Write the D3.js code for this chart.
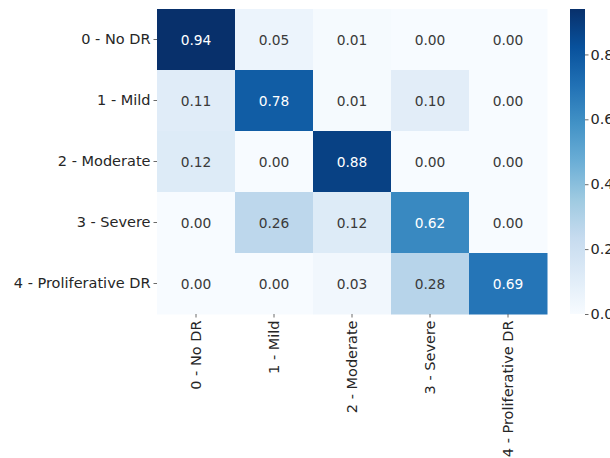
<!DOCTYPE html>
<html>
<head>
<meta charset="utf-8">
<script src="https://cdn.jsdelivr.net/npm/d3@7"></script>
<style>
  body { margin: 0; background: #fff; }
  svg { display: block; font-family: "DejaVu Sans", sans-serif; }
</style>
</head>
<body>
<svg width="610" height="458"></svg>
<script>
// confusion matrix, rows = true class, cols = predicted class
var classes = ["0 - No DR", "1 - Mild", "2 - Moderate", "3 - Severe", "4 - Proliferative DR"];
var row0 = [0.94, 0.05, 0.01, 0.00, 0.00];
var row1 = [0.11, 0.78, 0.01, 0.10, 0.00];
var row2 = [0.12, 0.00, 0.88, 0.00, 0.00];
var row3 = [0.00, 0.26, 0.12, 0.62, 0.00];
var row4 = [0.00, 0.00, 0.03, 0.28, 0.69];
var matrix = [row0, row1, row2, row3, row4];
var colorTicks = [0.0, 0.2, 0.4, 0.6, 0.8];

// matplotlib "Blues" anchors
var blues = ["#f7fbff", "#deebf7", "#c6dbef", "#9ecae1", "#6baed6", "#4292c6", "#2171b5", "#08519c", "#08306b"];

var svg = d3.select("svg");
var hmLeft = 157, hmTop = 9, hmRight = 547, hmBottom = 314;
var cbLeft = 570, cbWidth = 15;
var labelSize = "14.5px";

var cells = [];
matrix.forEach(function (r, i) {
    r.forEach(function (v, j) {
        cells.push({ row: i, col: j, value: v });
    });
});

var vmax = d3.max(cells, d => d.value);

var x = d3.scaleBand().domain(d3.range(classes.length)).range([hmLeft, hmRight]);
var y = d3.scaleBand().domain(d3.range(classes.length)).range([hmTop, hmBottom]);

var color = d3.scaleLinear()
    .domain(blues.map((c, i) => i / (blues.length - 1) * vmax))
    .range(blues)
    .interpolate(d3.interpolateRgb)
    .clamp(true);

function luminance(c) {
    var rgb = d3.rgb(c);
    var ch = [rgb.r, rgb.g, rgb.b].map(function (v) {
        v = v / 255;
        return v <= 0.03928 ? v / 12.92 : Math.pow((v + 0.055) / 1.055, 2.4);
    });
    return 0.2126 * ch[0] + 0.7152 * ch[1] + 0.0722 * ch[2];
}

var g = svg.append("g");

g.selectAll("rect")
    .data(cells)
    .enter().append("rect")
    .attr("x", d => x(d.col))
    .attr("y", d => y(d.row))
    .attr("width", x.bandwidth() + 0.5)
    .attr("height", y.bandwidth() + 0.5)
    .attr("fill", d => color(d.value));

g.selectAll("text.annot")
    .data(cells)
    .enter().append("text")
    .attr("class", "annot")
    .attr("x", d => x(d.col) + x.bandwidth() / 2)
    .attr("y", d => y(d.row) + y.bandwidth() / 2)
    .attr("text-anchor", "middle")
    .attr("dominant-baseline", "central")
    .style("font-size", "13.8px")
    .attr("fill", d => luminance(color(d.value)) > 0.408 ? "#3a3a3a" : "#fff")
    .text(d => d.value.toFixed(2));

// y axis
var yAxis = svg.append("g")
    .attr("transform", "translate(" + hmLeft + ",0)")
    .call(d3.axisLeft(y).tickSize(3.5).tickPadding(3).tickFormat(i => classes[i]));
yAxis.select(".domain").remove();
yAxis.selectAll("line").attr("stroke", "#444").attr("stroke-width", 0.8);
yAxis.selectAll("text").style("font-size", labelSize).attr("fill", "#262626").style("font-family", "DejaVu Sans");

// x axis, labels rotated
var xAxis = svg.append("g")
    .attr("transform", "translate(0," + hmBottom + ")")
    .call(d3.axisBottom(x).tickSize(3.5).tickPadding(3).tickFormat(i => classes[i]));
xAxis.select(".domain").remove();
xAxis.selectAll("line").attr("stroke", "#444").attr("stroke-width", 0.8);
xAxis.selectAll("text")
    .style("font-size", labelSize)
    .style("font-family", "DejaVu Sans")
    .attr("fill", "#262626")
    .attr("transform", "rotate(-90)")
    .attr("x", -6.5)
    .attr("y", 0)
    .attr("dy", "0.35em")
    .attr("text-anchor", "end");

// colorbar
var cScale = d3.scaleLinear().domain([0, vmax]).range([hmBottom, hmTop]);

var grad = svg.append("defs").append("linearGradient")
    .attr("id", "cbar")
    .attr("x1", 0).attr("y1", 1).attr("x2", 0).attr("y2", 0);
grad.selectAll("stop")
    .data(blues)
    .enter().append("stop")
    .attr("offset", (d, i) => i / (blues.length - 1))
    .attr("stop-color", d => d);

svg.append("rect")
    .attr("x", cbLeft)
    .attr("y", hmTop)
    .attr("width", cbWidth)
    .attr("height", hmBottom - hmTop)
    .attr("fill", "url(#cbar)");

var cAxis = svg.append("g")
    .attr("transform", "translate(" + (cbLeft + cbWidth) + ",0)")
    .call(d3.axisRight(cScale).tickValues(colorTicks).tickSize(3.5).tickPadding(2).tickFormat(d3.format(".1f")));
cAxis.select(".domain").remove();
cAxis.selectAll("line").attr("stroke", "#444").attr("stroke-width", 0.8);
cAxis.selectAll("text").style("font-size", labelSize).style("font-family", "DejaVu Sans").attr("fill", "#262626");
</script>
</body>
</html>
